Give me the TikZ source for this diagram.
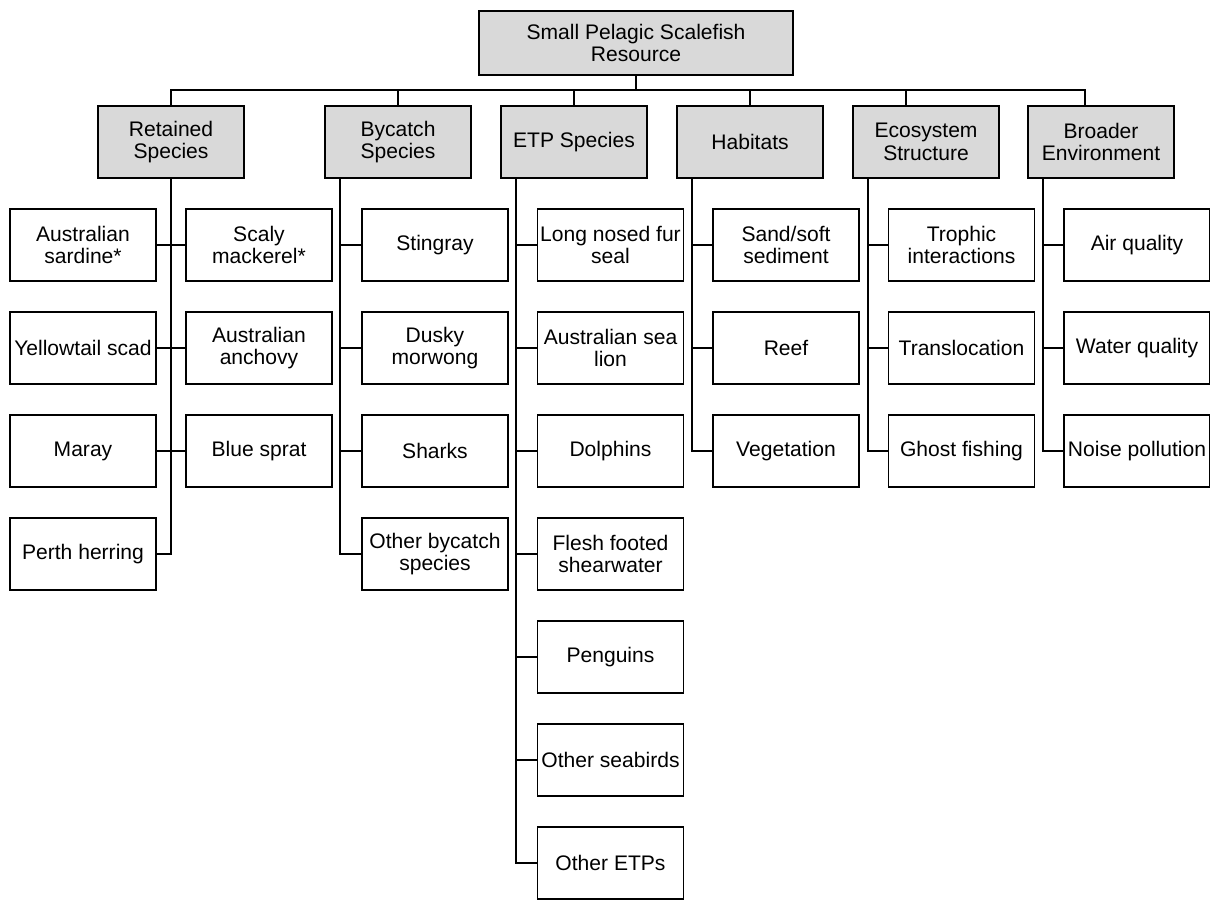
\documentclass[tikz,border=0pt]{standalone}
\usepackage{fontspec}
\setmainfont{Liberation Sans}
\begin{document}
\begin{tikzpicture}[x=0.75pt, y=-0.75pt,
    leaf/.style={draw, line width=1pt, minimum width=109.5pt, minimum height=54pt, inner sep=1pt, align=center, font=\fontsize{15.8}{17}\selectfont},
    head/.style={leaf, fill=black!15},
    link/.style={line width=1pt}]
\useasboundingbox (0,0) rectangle (1210,900);
% top level
\node[head, minimum width=235.5pt, minimum height=48pt] (root) at (636,43) {Small Pelagic Scalefish\\Resource};
\node[head] (ret) at (171,142) {Retained\\Species};
\node[head] (byc) at (398,142) {Bycatch\\Species};
\node[head] (etp) at (574,142) {ETP Species};
\node[head] (hab) at (750,142) {Habitats};
\node[head] (eco) at (926,142) {Ecosystem\\Structure};
\node[head] (bro) at (1101,142) {Broader\\Environment};
\coordinate (bus) at (636,90);
\draw[link] (root.south) -- (bus);
\foreach \h in {ret,byc,etp,hab}
{
    \draw[link] (bus) -| (\h.north);
}
\draw[link] (bus) -| ([xshift=-15pt]eco.north);
\draw[link] (bus) -| ([xshift=-12pt]bro.north);

% retained species, two columns
\foreach \n/\t [count=\i] in {sardine/{Australian\\sardine*}, yscad/Yellowtail scad, maray/Maray, perth/Perth herring}
    \node[leaf] (\n) at (83,{245+103*(\i-1)}) {\t};
\foreach \n/\t [count=\i] in {scaly/{Scaly\\mackerel*}, anchovy/{Australian\\anchovy}, sprat/Blue sprat}
    \node[leaf] (\n) at (259,{245+103*(\i-1)}) {\t};
\draw[link] (ret.south) |- (perth.east);
\foreach \a/\b in {sardine/scaly, yscad/anchovy, maray/sprat}
    \draw[link] (\a.east) -- (\b.west);

% bycatch
\coordinate (bt) at ([xshift=-43.5pt]byc.south);
\foreach \n/\t [count=\i] in {sting/Stingray, dusky/{Dusky\\morwong}, sharks/Sharks, othbyc/{Other bycatch\\species}}
{
    \node[leaf] (\n) at (435,{245+103*(\i-1)}) {\t};
    \draw[link] (bt) |- (\n.west);
}

% ETP species
\coordinate (et) at ([xshift=-43.5pt]etp.south);
\foreach \n/\t [count=\i] in {seal/{Long nosed fur\\seal}, sealion/{Australian sea\\lion}, dolph/Dolphins, shear/{Flesh footed\\shearwater}, peng/Penguins, othbird/Other seabirds, othetp/Other ETPs}
{
    \node[leaf] (\n) at (610.5,{245+103*(\i-1)}) {\t};
    \draw[link] (et) |- (\n.west);
}

% habitats
\coordinate (ht) at ([xshift=-43.5pt]hab.south);
\foreach \n/\t [count=\i] in {sand/{Sand/soft\\sediment}, reef/Reef, veg/Vegetation}
{
    \node[leaf] (\n) at (786,{245+103*(\i-1)}) {\t};
    \draw[link] (ht) |- (\n.west);
}

% ecosystem structure
\coordinate (st) at ([xshift=-43.5pt]eco.south);
\foreach \n/\t [count=\i] in {troph/{Trophic\\interactions}, transl/Translocation, ghost/Ghost fishing}
{
    \node[leaf] (\n) at (961.5,{245+103*(\i-1)}) {\t};
    \draw[link] (st) |- (\n.west);
}

% broader environment
\coordinate (nt) at ([xshift=-43.5pt]bro.south);
\foreach \n/\t [count=\i] in {air/Air quality, water/Water quality, noise/Noise pollution}
{
    \node[leaf] (\n) at (1137,{245+103*(\i-1)}) {\t};
    \draw[link] (nt) |- (\n.west);
}
\end{tikzpicture}
\end{document}
